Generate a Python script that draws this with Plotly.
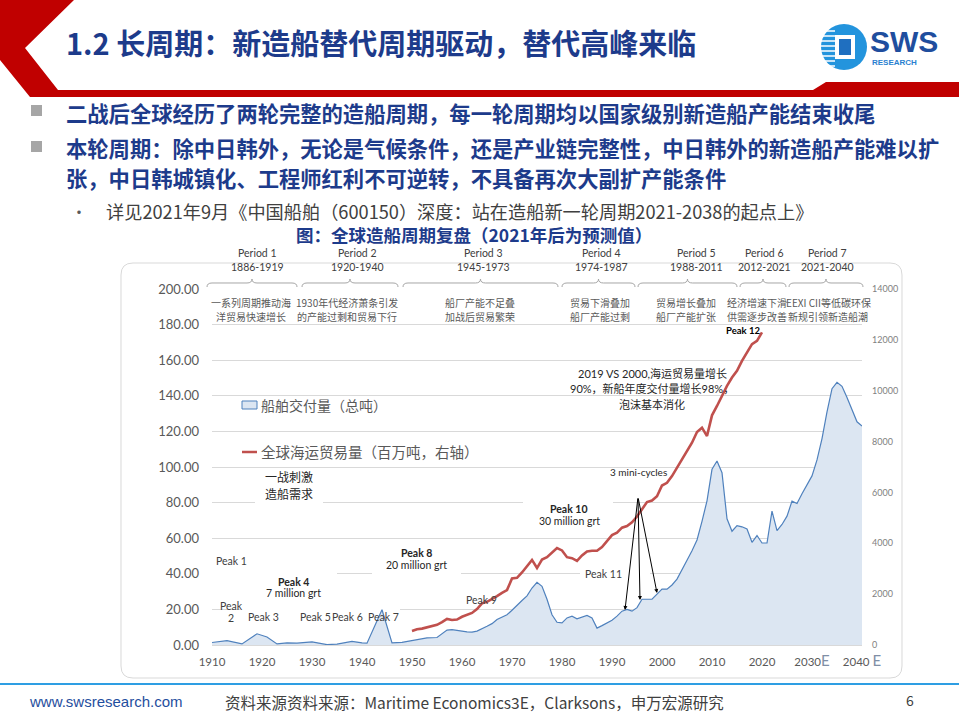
import plotly.graph_objects as go

W, H = 959, 719

# ---------------- data ----------------
delivery_years = [1910, 1913, 1916, 1919, 1921, 1923, 1925, 1927, 1930, 1933, 1935, 1938,
                  1940, 1941, 1944, 1946, 1948, 1950, 1953, 1955, 1957, 1958, 1960, 1961,
                  1962, 1963, 1965, 1966, 1967, 1968, 1969, 1970, 1971, 1972, 1973, 1974,
                  1975, 1976, 1977, 1978, 1979, 1980, 1981, 1982, 1983, 1984, 1985, 1986,
                  1987, 1988, 1989, 1990, 1991, 1992, 1993, 1994, 1995, 1996, 1997, 1998,
                  1999, 2000, 2001, 2002, 2003, 2004, 2005, 2006, 2007, 2008, 2009, 2010,
                  2011, 2012, 2013, 2014, 2015, 2016, 2017, 2018, 2019, 2020, 2021, 2022,
                  2023, 2024, 2025, 2026, 2027, 2028, 2029, 2030, 2031, 2032, 2033, 2034,
                  2035, 2036, 2037, 2038, 2039, 2040]
delivery_mgt = [1.4, 2.5, 0.6, 6.3, 4.5, 0.6, 1.2, 1.0, 1.8, 0.2, 0.5, 2.0,
                1.2, 1.0, 19.8, 1.2, 1.5, 2.5, 4.0, 4.2, 8.4, 8.6, 7.6, 7.4,
                7.2, 7.8, 10.5, 12.0, 14.3, 15.5, 17.0, 19.5, 22.0, 25.0, 27.6, 32.0,
                35.2, 33.0, 25.7, 17.0, 12.8, 12.4, 15.2, 16.2, 14.7, 15.8, 16.6, 15.2,
                9.5, 10.9, 12.4, 13.9, 16.2, 19.0, 20.0, 19.0, 21.0, 25.7, 25.7, 25.7,
                28.6, 31.4, 31.4, 33.7, 37.0, 42.0, 47.6, 53.0, 59.0, 69.5, 81.0, 98.7,
                103.4, 96.8, 70.9, 63.9, 67.1, 66.4, 65.2, 57.7, 61.5, 57.3, 57.3, 75.2,
                64.3, 67.7, 72.4, 80.8, 79.5, 85.0, 90.0, 95.0, 104.0, 116.0, 131.0, 144.0,
                147.6, 145.3, 139.0, 132.5, 125.4, 123.0]

trade_years = list(range(1950, 2021))
trade_mt = [548, 617, 644, 700, 740, 795, 900, 1028, 986, 1000,
            1110, 1180, 1260, 1411, 1640, 1700, 1800, 1920, 2050, 2160,
            2613, 2640, 2853, 3120, 3346, 3026, 3360, 3453, 3626, 3813,
            3720, 3453, 3413, 3306, 3520, 3680, 3706, 3706, 3853, 4080,
            4320, 4413, 4613, 4680, 4826, 5053, 5320, 5620, 5680, 5850,
            6270, 6377, 6640, 6968, 7297, 7625, 7955, 8375, 8546, 8217,
            9032, 9400, 9794, 10188, 10516, 10780, 11174, 11503, 11830, 11960,
            12292]

x_tick_vals = [1910, 1920, 1930, 1940, 1950, 1960, 1970, 1980, 1990, 2000, 2010, 2020, 2030, 2040]
E_SPAN = "<span style='font-size:15px;color:#7f8fa6'>E</span>"
x_tick_labels = ["1910", "1920", "1930", "1940", "1950", "1960", "1970", "1980", "1990",
                 "2000", "2010", "2020", "2030" + E_SPAN, "2040 " + E_SPAN]
left_ticks = [0, 20, 40, 60, 80, 100, 120, 140, 160, 180, 200]
right_ticks = [0, 2000, 4000, 6000, 8000, 10000, 12000, 14000]

periods = ["Period 1", "Period 2", "Period 3", "Period 4", "Period 5", "Period 6", "Period 7"]
period_years = ["1886-1919", "1920-1940", "1945-1973", "1974-1987", "1988-2011", "2012-2021", "2021-2040"]
period_desc1 = ["一系列周期推动海", "1930年代经济萧条引发", "船厂产能不足叠", "贸易下滑叠加",
                "贸易增长叠加", "经济增速下滑", "EEXI CII等低碳环保"]
period_desc2 = ["洋贸易快速增长", "的产能过剩和贸易下行", "加战后贸易繁荣", "船厂产能过剩",
                "船厂产能扩张", "供需逐步改善", "新规引领新造船潮"]

# ---------------- helpers ----------------
LAT = "Lato, 'Noto Sans CJK SC', sans-serif"
CJK = "'Noto Sans CJK SC', sans-serif"
BLUE_TXT = "#1d3b8b"


def px(x):
    return x / W


def py(y):
    return 1 - y / H


def pt(x, y):
    return f"{px(x):.5f},{py(y):.5f}"


annotations = []
shapes = []


def ann(x, y, text, size=11, color="#404040", family=LAT, xanchor="center", bold=False, weight=None):
    annotations.append(dict(x=px(x), y=py(y), xref="paper", yref="paper", text=text,
                            showarrow=False, xanchor=xanchor, yanchor="middle",
                            font=dict(size=size, color=color, family=family,
                                      weight=weight if weight else ("bold" if bold else "normal"))))


def path_shape(d, fill=None, line_color=None, width=1, layer="above"):
    s = dict(type="path", path=d, xref="paper", yref="paper", layer=layer,
             line=dict(color=line_color or "rgba(0,0,0,0)", width=width if line_color else 0))
    if fill:
        s["fillcolor"] = fill
    shapes.append(s)


# ---------------- slide header ----------------
header = ("M " + pt(0, 0) + " L " + pt(74, 0) + " L " + pt(25, 48) + " L " + pt(58, 90) +
          " L " + pt(813, 90) + " L " + pt(826, 82) + " L " + pt(959, 82) + " L " + pt(959, 97) +
          " L " + pt(30, 97) + " L " + pt(0, 60) + " Z")
path_shape(header, fill="#c00000")

ann(64, 42, "1.2 长周期：新造船替代周期驱动，替代高峰来临", size=29, color=BLUE_TXT,
    family=CJK, xanchor="left", bold=True)

# logo
shapes.append(dict(type="circle", xref="paper", yref="paper", x0=px(821), x1=px(867),
                   y0=py(70), y1=py(24), fillcolor="#2394dd", line=dict(width=0)))
shapes.append(dict(type="rect", xref="paper", yref="paper", x0=px(835), x1=px(855),
                   y0=py(59), y1=py(35), fillcolor="white", line=dict(width=0)))
shapes.append(dict(type="rect", xref="paper", yref="paper", x0=px(839), x1=px(851),
                   y0=py(55), y1=py(39), fillcolor="#1f6fc0", line=dict(width=0)))
for yy in [31, 36, 41, 46, 51, 56, 61, 66]:
    shapes.append(dict(type="line", xref="paper", yref="paper", x0=px(820), x1=px(835),
                       y0=py(yy), y1=py(yy), line=dict(color="white", width=1.5)))
ann(868, 42, "SWS", size=30, color="#1f4e9e", family="'Liberation Sans Narrow', 'Liberation Sans', sans-serif",
    xanchor="left", bold=True)
ann(870, 62, "RESEARCH", size=8, color="#2a7fd0", family="'Liberation Sans', sans-serif",
    xanchor="left", bold=True)

# bullets
for y0 in [105, 141]:
    shapes.append(dict(type="rect", xref="paper", yref="paper", x0=px(31), x1=px(42),
                       y0=py(y0 + 11), y1=py(y0), fillcolor="#a6a6a6", line=dict(width=0)))
ann(64, 112, "二战后全球经历了两轮完整的造船周期，每一轮周期均以国家级别新造船产能结束收尾",
    size=21.3, color=BLUE_TXT, family=CJK, xanchor="left", bold=True)
ann(64, 147, "本轮周期：除中日韩外，无论是气候条件，还是产业链完整性，中日韩外的新造船产能难以扩",
    size=21.3, color=BLUE_TXT, family=CJK, xanchor="left", bold=True)
ann(64, 178, "张，中日韩城镇化、工程师红利不可逆转，不具备再次大副扩产能条件",
    size=21.3, color=BLUE_TXT, family=CJK, xanchor="left", bold=True)
ann(79, 211, "•", size=16, color="#595959", family=CJK)
ann(104, 210.5, "详见2021年9月《中国船舶（600150）深度：站在造船新一轮周期2021-2038的起点上》",
    size=18.2, color="#404040", family=CJK, xanchor="left")
ann(474, 234, "图：全球造船周期复盘（2021年后为预测值）", size=17.5, color=BLUE_TXT,
    family=CJK, bold=True)

# ---------------- chart frame ----------------
x0b, y0b, x1b, y1b, r = 121, 263, 902, 678, 12
frame = ("M " + pt(x0b + r, y0b) + " L " + pt(x1b - r, y0b) + " Q " + pt(x1b, y0b) + " " + pt(x1b, y0b + r) +
         " L " + pt(x1b, y1b - r) + " Q " + pt(x1b, y1b) + " " + pt(x1b - r, y1b) +
         " L " + pt(x0b + r, y1b) + " Q " + pt(x0b, y1b) + " " + pt(x0b, y1b - r) +
         " L " + pt(x0b, y0b + r) + " Q " + pt(x0b, y0b) + " " + pt(x0b + r, y0b) + " Z")
path_shape(frame, line_color="#d9d9d9", width=1, layer="below")

# period labels & braces
period_cx = [257, 357, 483, 601, 696, 764, 827]
desc_cx = [251, 347, 480, 600, 686, 757, 828]
brace_spans = [(207, 297), (302, 398), (403, 558), (562, 635), (638, 737), (740, 786), (789, 863)]
for i in range(7):
    ann(period_cx[i], 253, periods[i], size=10.5)
    ann(period_cx[i], 267, period_years[i], size=10.5)
    ann(desc_cx[i], 302.5, period_desc1[i], size=10, color="#595959", family=CJK)
    ann(desc_cx[i], 316, period_desc2[i], size=10, color="#595959", family=CJK)
    a, b = brace_spans[i]
    m = (a + b) / 2
    yb = 283
    d = ("M " + pt(a, yb + 4) + " Q " + pt(a, yb) + " " + pt(a + 5, yb) + " L " + pt(m - 5, yb) +
         " Q " + pt(m, yb) + " " + pt(m, yb - 4) + " Q " + pt(m, yb) + " " + pt(m + 5, yb) +
         " L " + pt(b - 5, yb) + " Q " + pt(b, yb) + " " + pt(b, yb + 4))
    path_shape(d, line_color="#a6a6a6", width=1)

# peak labels
ann(743, 330.5, "Peak 12", size=9.5, color="#000000", bold=True)
ann(652, 373, "2019 VS 2000,海运贸易量增长", size=11, color="#262626")
ann(652, 389, "90%，新船年度交付量增长98%，", size=11, color="#262626")
ann(652, 404, "泡沫基本消化", size=11, color="#262626", family=CJK)
ann(638, 472, "3 mini-cycles", size=10, color="#262626")
ann(569, 509, "Peak 10", size=10.5, color="#262626", bold=True)
ann(569, 521, "30 million grt", size=10.5, color="#262626")
ann(603, 574, "Peak 11", size=10.5)
ann(481, 600, "Peak 9", size=10.5)
ann(416, 553, "Peak 8", size=10.5, color="#262626", bold=True)
ann(416, 565, "20 million grt", size=10.5, color="#262626")
ann(383, 617, "Peak 7", size=10.5)
ann(347, 617, "Peak 6", size=10.5)
ann(315, 617, "Peak 5", size=10.5)
ann(263, 617, "Peak 3", size=10.5)
ann(293, 582, "Peak 4", size=10.5, color="#262626", bold=True)
ann(293, 593, "7 million grt", size=10.5, color="#262626")
ann(231, 561, "Peak 1", size=10.5)
ann(231, 606, "Peak", size=10.5)
ann(231, 618, "2", size=10.5)
ann(263, 477, "一战刺激", size=12, color="#262626", family=CJK, xanchor="left")
ann(263, 493, "造船需求", size=12, color="#262626", family=CJK, xanchor="left")

# manual legend
shapes.append(dict(type="rect", xref="paper", yref="paper", x0=px(242), x1=px(257),
                   y0=py(409), y1=py(401), fillcolor="#dce6f2", line=dict(color="#4f81bd", width=1)))
ann(259, 405, "船舶交付量（总吨）", size=14, color="#595959", family=CJK, xanchor="left")
shapes.append(dict(type="line", xref="paper", yref="paper", x0=px(242), x1=px(257),
                   y0=py(452), y1=py(452), line=dict(color="#c0504d", width=2.5)))
ann(259, 452, "全球海运贸易量（百万吨，右轴）", size=14.5, color="#595959", family=CJK, xanchor="left")

# arrows for mini-cycles
apex = (638, 497)
for tip in [(625, 610), (640, 600), (657, 593)]:
    annotations.append(dict(x=px(tip[0]), y=py(tip[1]), xref="paper", yref="paper", text="",
                            showarrow=True, ax=apex[0] - tip[0], ay=apex[1] - tip[1],
                            arrowhead=2, arrowsize=0.8, arrowwidth=1, arrowcolor="#000000",
                            standoff=0))

# white boxes behind text that break gridlines (between grid and traces)
gaps = [(1918.6, 1932.2, 80), (1972.2, 1990.2, 80), (1910, 1935, 40),
        (1942, 1959.8, 40), (1983.6, 1997.6, 40), (1915.6, 1947.6, 20)]
for a, b, g in gaps:
    shapes.append(dict(type="rect", xref="x", yref="y", x0=a, x1=b, y0=g - 1.5, y1=g + 1.5,
                       fillcolor="white", line=dict(width=0), layer="between"))

# footer
shapes.append(dict(type="line", xref="paper", yref="paper", x0=0, x1=1, y0=py(684), y1=py(684),
                   line=dict(color="#2e9ee3", width=2)))
ann(27, 701, "www.swsresearch.com", size=15, color="#1f4e9e",
    family="'Liberation Sans Narrow', 'Liberation Sans', sans-serif", xanchor="left")
ann(223, 702, "资料来源资料来源：Maritime Economics3E，Clarksons，申万宏源研究", size=15.5,
    color="#404040", family=CJK, xanchor="left")
ann(910, 700, "6", size=14, color="#404040", family=CJK)

# ---------------- traces ----------------
fig = go.Figure()
fig.add_trace(go.Scatter(x=delivery_years, y=delivery_mgt, mode="lines", fill="tozeroy",
                         fillcolor="#dce6f2", line=dict(color="#4f81bd", width=1.2),
                         name="船舶交付量（总吨）", yaxis="y"))
fig.add_trace(go.Scatter(x=trade_years, y=trade_mt, mode="lines",
                         line=dict(color="#c0504d", width=2.6),
                         name="全球海运贸易量（百万吨，右轴）", yaxis="y2"))

fig.update_layout(
    width=W, height=H, autosize=False, margin=dict(l=0, r=0, t=0, b=0, pad=0, autoexpand=False),
    paper_bgcolor="white", plot_bgcolor="white", showlegend=False,
    xaxis=dict(domain=[212 / W, 862 / W], range=[1910, 2040], tickmode="array",
               tickvals=x_tick_vals, ticktext=x_tick_labels, showgrid=False, zeroline=False,
               showline=True, linecolor="#d9d9d9", linewidth=1, ticks="", automargin=False,
               tickfont=dict(size=11.5, color="#595959", family=LAT), ticklabelstandoff=6),
    yaxis=dict(domain=[1 - 645 / H, 1 - 289 / H], range=[0, 200], tickmode="array",
               tickvals=left_ticks, tickformat=".2f", showgrid=True, gridcolor="#d9d9d9",
               gridwidth=1, zeroline=False, showline=False, ticks="", automargin=False,
               tickfont=dict(size=13, color="#595959", family=LAT), ticklabelstandoff=12),
    yaxis2=dict(overlaying="y", side="right", anchor="x", range=[0, 14000], tickmode="array",
                tickvals=right_ticks, tickformat="d", showgrid=False, zeroline=False,
                showline=False, ticks="", automargin=False,
                tickfont=dict(size=9, color="#7f7f7f", family=LAT), ticklabelstandoff=9),
    annotations=annotations, shapes=shapes,
)

post = ("document.documentElement.style.margin='0';document.body.style.margin='0';"
        "document.body.style.padding='0';document.body.style.overflow='hidden';"
        "var gd=document.getElementById('{plot_id}');"
        "gd.style.position='absolute';gd.style.left='0px';gd.style.top='0px';"
        "Plotly.relayout(gd,{width:959,height:719});")

fig.write_html("out.html", config={"responsive": False, "displayModeBar": False},
               post_script=post)
